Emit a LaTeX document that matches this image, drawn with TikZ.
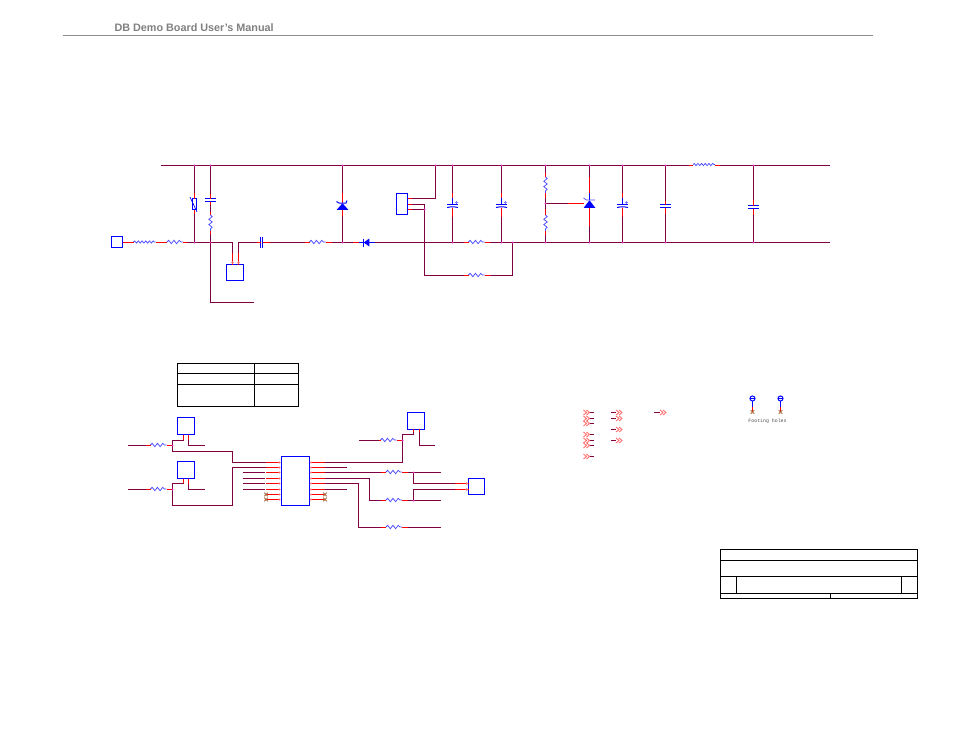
\documentclass[tikz,border=0pt]{standalone}
\usepackage{fontspec}
\setmainfont{Liberation Sans}
\newfontfamily\monof{Liberation Mono}
\usetikzlibrary{decorations.pathmorphing}
\definecolor{netc}{HTML}{800040}
\definecolor{jnc}{HTML}{E030D0}
\definecolor{pinc}{HTML}{FF7070}
\definecolor{ncc}{HTML}{A87040}
\tikzset{
 x=1bp,y=-1bp,
 wire/.style={netc,line width=1bp},
 lead/.style={red,line width=1bp},
 bluel/.style={blue,line width=1bp},
 tbl/.style={black,line width=.9bp},
 part/.style={draw=blue,line width=1bp,inner sep=0,outer sep=0,minimum width=17bp,minimum height=17bp},
 comp/.style={inner sep=0,outer sep=0},
 coil/.style={blue!70,line width=.75bp,decorate,decoration={snake,segment length=5.3bp,amplitude=1.7bp}},
 resh/.style={comp,minimum width=16bp,minimum height=4bp,append after command={(\tikzlastnode.west) edge[coil] (\tikzlastnode.east)}},
 resv/.style={comp,minimum width=4bp,minimum height=16bp,append after command={(\tikzlastnode.north) edge[coil] (\tikzlastnode.south)}},
 indh/.style={comp,minimum width=22bp,minimum height=4bp,append after command={(\tikzlastnode.west) edge[coil,decoration={snake,segment length=3.7bp,amplitude=1.1bp}] (\tikzlastnode.east)}},
 capv/.style={comp,minimum width=11bp,minimum height=3bp,append after command={(\tikzlastnode.north west) edge[bluel] (\tikzlastnode.north east) (\tikzlastnode.south west) edge[bluel] (\tikzlastnode.south east)}},
 caph/.style={comp,minimum width=2bp,minimum height=11bp,append after command={(\tikzlastnode.north west) edge[bluel] (\tikzlastnode.south west) (\tikzlastnode.north east) edge[bluel] (\tikzlastnode.south east)}},
 capp/.style={comp,minimum width=11bp,minimum height=3bp,append after command={(\tikzlastnode.north west) edge[bluel] (\tikzlastnode.north east) (\tikzlastnode.south west) edge[bluel,bend left=12] (\tikzlastnode.south east)}},
 jn/.style={fill=jnc},
 offp/.style={pinc,line width=.9bp},
 ncx/.style={ncc,line width=.9bp},
}
% horizontal and vertical stubs (dy positive = down the page)
\newcommand{\stubh}[3][lead]{\draw[#1] (#2) -- ([xshift=#3bp]#2);}
\newcommand{\stubv}[3][lead]{\draw[#1] (#2) -- ([yshift=-#3bp]#2);}
\begin{document}
\begin{tikzpicture}
\useasboundingbox (0,0) rectangle (954,738);
% header
\node[anchor=base west,inner sep=0,text=black!50,font=\bfseries\fontsize{10.85}{12}\selectfont] (hdr) at (114.3,31.6) {DB Demo Board User\symbol{39}s Manual};
\coordinate (hl) at (63,35.5); \coordinate (hr) at (873,35.5);
\draw[black!45,line width=.8bp] (hl) -- (hr);

% ---- top schematic: parts
\node[part,minimum width=11bp,minimum height=11bp] (J1) at (117,242) {};
\node[indh] (L1) at (144.5,242) {};
\node[resh] (R1) at (175,242) {};
\node[comp,draw=blue,line width=1bp,minimum width=4bp,minimum height=11bp] (RV) at (194.5,204) {};
\node[capv] (C1) at (210.5,200) {};
\node[resv] (R2) at (210.5,223) {};
\node[part,minimum height=16bp] (U2) at (235,272.5) {};
\node[caph] (C2) at (261.5,242.5) {};
\node[resh] (R3) at (317.5,242) {};
\node[comp,minimum width=11.5bp,minimum height=6.5bp] (Z1) at (342.5,206.5) {};
\node[comp,minimum width=5.6bp,minimum height=8bp] (D1) at (366.5,242.5) {};
\node[part,minimum width=11bp,minimum height=21bp] (U3) at (402,204) {};
\node[capp] (C3) at (452.5,206) {};
\node[capp] (C4) at (501.5,206) {};
\node[resh] (R4) at (476.5,242) {};
\node[resh] (R5) at (476.5,275) {};
\node[resv] (R6) at (545.5,185) {};
\node[resv] (R7) at (545.5,223) {};
\node[comp,minimum width=11.5bp,minimum height=7.5bp] (Z2) at (589.5,204) {};
\node[capp] (C5) at (622.5,206) {};
\node[capv] (C6) at (665.5,206) {};
\node[indh] (L2) at (704,164.5) {};
\node[capv] (C7) at (753.5,207) {};

% rails junction points
\foreach \n/\x in {1/194.5,2/210.5,3/342.5,4/435.5,5/452.5,6/501.5,7/545.5,8/589.5,9/622.5,10/665.5,11/753.5}
 {\coordinate (T\n) at (\x,165.5);}
\foreach \n/\x in {1/194.5,2/210.5,3/342.5,5/452.5,6/501.5,7/545.5,8/589.5,9/622.5,10/665.5,11/753.5,12/512.5}
 {\coordinate (B\n) at (\x,242.5);}
\coordinate (T0) at (161,165.5); \coordinate (Tend) at (830,165.5);
\coordinate (Ll) at (693,165.5); \coordinate (Lr) at (715,165.5);
\coordinate (Bend) at (830,242.5);
\coordinate (J1p) at (122.5,242.5); \coordinate (L1l) at (133.5,242.5); \coordinate (L1r) at (155.5,242.5);
\coordinate (R1l) at (167,242.5); \coordinate (R1r) at (183,242.5);
\coordinate (B2a) at (232.5,242.5); \coordinate (B2b) at (238.5,242.5);
\coordinate (U2a) at (232.5,264.5); \coordinate (U2b) at (238.5,264.5);
\coordinate (C2l) at (260.5,242.5); \coordinate (C2r) at (262.5,242.5);
\coordinate (R3l) at (309.5,242.5); \coordinate (R3r) at (325.5,242.5);
\coordinate (R4l) at (468.5,242.5); \coordinate (R4r) at (484.5,242.5);
\coordinate (R5l) at (468.5,275.5); \coordinate (R5r) at (484.5,275.5);
\coordinate (S1) at (253.7,302.5);
\coordinate (M7) at (545.5,203.5); \coordinate (Zin) at (583.7,203.5);
\coordinate (U3a) at (407.5,198.5); \coordinate (U3b) at (407.5,204.5); \coordinate (U3c) at (407.5,209.5);
\coordinate (N1) at (424.5,204.5); \coordinate (N2) at (424.5,209.5); \coordinate (N3) at (424.5,275.5);
\coordinate (RVt) at (194.5,198.5); \coordinate (RVb) at (194.5,209.5);
\coordinate (Dl) at (359.3,242.5); \coordinate (Dr) at (375.3,242.5);
\coordinate (C3u) at (452.5,198); \coordinate (C4u) at (501.5,198); \coordinate (C5u) at (622.5,198);
\coordinate (Z2u) at (589.5,193);

% wires
\draw[wire] (T0) -- (Ll) (Lr) -- (Tend);
\draw[wire] (J1p) -- (L1l) (L1r) -- (R1l) (R1r) -- (B2a) -- (U2a);
\draw[wire] (U2b) -- (B2b) -- (C2l) (C2r) -- (R3l) (R3r) -- (Dl);
\draw[wire] (Dr) -- (R4l) (R4r) -- (Bend);
\draw[wire] (T1) -- (RVt) (RVb) -- (B1);
\draw[wire] (T2) -- (C1.north) (C1.south) -- (R2.north) (R2.south) -- (B2) -- (B2 |- S1) -- (S1);
\draw[wire] (T3) -- (Z1.north) (Z1.south) -- (B3);
\draw[wire] (U3a) -- (U3a -| T4) -- (T4);
\draw[wire] (U3b) -- (N1) -- (N3) -- (R5l) (R5r) -- (R5r -| B12) -- (B12);
\draw[wire] (U3c) -- (N2);
\draw[wire] (T5) -- (C3u) (C3.south) -- (B5);
\draw[wire] (T6) -- (C4u) (C4.south) -- (B6);
\draw[wire] (T7) -- (R6.north) (R6.south) -- (R7.north) (R7.south) -- (B7);
\draw[wire] (M7) -- (Zin);
\draw[wire] (T8) -- (Z2u) (Z2.south) -- (B8);
\draw[wire] (T9) -- (C5u) (C5.south) -- (B9);
\draw[wire] (T10) -- (C6.north) (C6.south) -- (B10);
\draw[wire] (T11) -- (C7.north) (C7.south) -- (B11);

% red leads
\stubh{J1p}{10.5} \stubh{L1l}{-0.5} \stubh{L1r}{6} \stubh{R1l}{-5} \stubh{R1r}{4}
\stubv{U2a}{-12} \stubv{U2b}{-12}
\stubh{C2l}{-3.5} \stubh{C2r}{7} \stubh{R3l}{-4.5} \stubh{R3r}{6}
\stubh{Dl}{-6}
\draw[bluel] (D1.west) -- (Dl) (D1.east) -- (Dr);
\stubh{R4l}{-5} \stubh{R4r}{5} \stubh{R5l}{-5} \stubh{R5r}{5}
\stubv{RVt}{-5.3} \stubv{RVb}{4}
\stubv{C1.north}{-5} \stubv{C1.south}{3.5} \stubv{R2.north}{-3.5} \stubv{R2.south}{3}
\stubv{Z1.north}{-10} \stubv{Z1.south}{6}
\stubh{U3a}{4} \stubh{U3b}{4} \stubh{U3c}{4}
\draw[bluel] (C3.north) -- (C3u); \stubv{C3u}{-5} \stubv{C3.south}{9}
\draw[bluel] (C4.north) -- (C4u); \stubv{C4u}{-5} \stubv{C4.south}{9}
\draw[bluel] (C5.north) -- (C5u); \stubv{C5u}{-5} \stubv{C5.south}{9}
\stubv{C6.north}{-4} \stubv{C6.south}{6}
\stubv{C7.north}{-6} \stubv{C7.south}{6}
\stubv{R6.north}{-4} \stubv{R6.south}{4.5} \stubv{R7.north}{-6.5} \stubv{R7.south}{4}
\stubh{Zin}{-16}
\draw[bluel] (Z2.north) -- (Z2u); \stubv{Z2u}{-16} \stubv{Z2.south}{18}
\stubh{Ll}{-4.5} \stubh{Lr}{4.5}

% symbols
\draw[blue,line width=.7bp] (190,197) -- (197,212);
\fill[blue] (Z1.south west) -- (Z1.south east) -- (Z1.north) -- cycle;
\draw[bluel] (336.5,201.5) -- (339,203) -- (346,203) -- (347,200.5);
\fill[blue] (Z2.south west) -- (Z2.south east) -- (Z2.north) -- cycle;
\draw[blue!70,line width=.7bp] (583.5,198) -- (586.5,200) -- (595,200);
\fill[blue] ([yshift=4bp]D1.east) -- (D1.west) -- ([yshift=-4bp]D1.east) -- cycle;
\draw[bluel] ([yshift=-4bp]D1.west) -- ([yshift=4bp]D1.west);
\foreach \c in {C3,C4,C5}{
 \draw[blue!50,line width=.5bp] ([shift={(-3bp,1.8bp)}]\c.north east) -- ([shift={(0bp,1.8bp)}]\c.north east)
   ([shift={(-1.5bp,0.3bp)}]\c.north east) -- ([shift={(-1.5bp,3.3bp)}]\c.north east);}

% junctions
\foreach \c in {T1,T2,T3,T4,T5,T6,T7,T8,T9,T10,T11,B1,B2,B3,B5,B6,B7,B8,B9,B10,B11,B12,M7,N2}{\fill[jn] (\c) circle (1bp);}
\foreach \c in {U2a,U2b}{\fill[pinc] ([yshift=2bp]\c) circle (1.3bp);}

% ---- table
\node[comp,draw=black,line width=.9bp,minimum width=121bp,minimum height=43bp] (TB) at (238,385) {};
\coordinate (Ta) at (177.5,373.5); \coordinate (Tb) at (177.5,384.5);
\coordinate (Tv) at (254.5,363.5);
\draw[tbl] (Ta) -- (Ta -| TB.east) (Tb) -- (Tb -| TB.east) (Tv) -- (Tv |- TB.south);

% ---- lower schematic
\node[part] (Q1) at (186,426) {};
\node[part] (Q2) at (186,470) {};
\node[part,minimum width=28bp,minimum height=49bp] (IC) at (295.5,481) {};
\node[part] (Q3) at (416,420.5) {};
\node[part,minimum width=16bp,minimum height=16bp] (P1) at (476.5,486.5) {};
\node[resh] (R11) at (158.5,445) {};
\node[resh] (R12) at (158.5,489) {};
\node[resh] (R13) at (388.5,440) {};
\node[resh] (R14) at (394,472) {};
\node[resh] (R15) at (394,500) {};
\node[resh] (R16) at (394,527) {};

\foreach \i/\y in {1/462.5,2/467.5,3/472.5,4/478.5,5/483.5,6/489.5,7/494.5,8/499.5}{
 \coordinate (L\i) at (279.5,\y);
 \coordinate (R\i) at (311,\y);
 \coordinate (LL\i) at (266,\y);
 \coordinate (RR\i) at (325,\y);
}
\foreach \i in {3,4,5,6}{\coordinate (LF\i) at ([xshift=-36.8bp]L\i); \draw[wire] (LF\i) -- ([xshift=-1bp]LL\i);}
\foreach \i in {1,...,8}{\draw[lead] (L\i) -- (LL\i); \draw[lead] (R\i) -- (RR\i);}
\foreach \i in {7,8}{
 \draw[ncx] ([shift={(-1.8bp,-1.8bp)}]LL\i) -- ([shift={(1.8bp,1.8bp)}]LL\i) ([shift={(-1.8bp,1.8bp)}]LL\i) -- ([shift={(1.8bp,-1.8bp)}]LL\i);
 \draw[ncx] ([shift={(-1.8bp,-1.8bp)}]RR\i) -- ([shift={(1.8bp,1.8bp)}]RR\i) ([shift={(-1.8bp,1.8bp)}]RR\i) -- ([shift={(1.8bp,-1.8bp)}]RR\i);
}
% gate nets
\coordinate (Q1a) at (183.5,434.5); \coordinate (Q1b) at (188.5,434.5);
\coordinate (Q2a) at (183.5,478.5); \coordinate (Q2b) at (188.5,478.5);
\coordinate (W1) at (128,445.5); \coordinate (W2) at (128,489.5);
\coordinate (E1) at (204.7,445.5); \coordinate (E2) at (204.7,489.5);
\coordinate (J11) at (172.5,445.5); \coordinate (J12) at (172.5,489.5);
\coordinate (R11l) at (150.5,445.5); \coordinate (R11r) at (166.5,445.5);
\coordinate (R12l) at (150.5,489.5); \coordinate (R12r) at (166.5,489.5);
\draw[wire] (Q1a) -- (183.5,440.5) -- (172.5,440.5) -- (172.5,451.5) -- (232.5,451.5) -- (232.5,462.5) -- (LL1);
\draw[wire] (Q2a) -- (183.5,483.5) -- (172.5,483.5) -- (172.5,505.5) -- (232.5,505.5) -- (232.5,467.5) -- (LL2);
\draw[wire] (Q1b) |- (E1);
\draw[wire] (Q2b) |- (E2);
\draw[wire] (W1) -- (R11l) (W2) -- (R12l);
\stubh{R11l}{-5} \draw[lead] (R11r) -- (J11);
\stubh{R12l}{-5} \draw[lead] (R12r) -- (J12);
\stubv{Q1a}{5} \stubv{Q1b}{5} \stubv{Q2a}{4} \stubv{Q2b}{5}
\fill[jn] (J11) circle (1bp) (J12) circle (1bp);
% right nets
\coordinate (Q3a) at (413.5,428.5); \coordinate (Q3b) at (419.5,428.5);
\coordinate (J13) at (402.5,440.5); \coordinate (W3) at (359.3,440.5);
\coordinate (J14) at (413.5,472.5); \coordinate (J15) at (413.5,500.5);
\coordinate (E14) at (440.7,472.5); \coordinate (E15) at (440.7,500.5); \coordinate (E16) at (440.7,527.5);
\coordinate (P1a) at (468.5,483.5); \coordinate (P1b) at (468.5,489.5);
\coordinate (E3) at (434.7,445.5);
\coordinate (F2) at (346.7,467.5); \coordinate (F6) at (346.7,489.5);
\coordinate (R13l) at (380.5,440.5); \coordinate (R13r) at (396.5,440.5);
\coordinate (R14l) at (386,472.5); \coordinate (R14r) at (402,472.5);
\coordinate (R15l) at (386,500.5); \coordinate (R15r) at (402,500.5);
\coordinate (R16l) at (386,527.5); \coordinate (R16r) at (402,527.5);
\draw[wire] (RR1) -- (402.5,462.5) -- (402.5,434.5) -- (413.5,434.5) -- (Q3a);
\draw[wire] (RR2) -- (F2) (RR6) -- (F6);
\draw[wire] (RR3) -- (R14l) (R14r) -- (E14);
\draw[wire] (RR4) -- (369.5,478.5) -- (369.5,500.5) -- (R15l) (R15r) -- (E15);
\draw[wire] (RR5) -- (358.5,483.5) -- (358.5,527.5) -- (R16l) (R16r) -- (E16);
\draw[wire] (W3) -- (R13l);
\draw[wire] (Q3b) |- (E3);
\draw[wire] (J14) |- (P1a);
\draw[wire] (J15) |- (P1b);
\stubh{R13l}{-1.5} \draw[lead] (R13r) -- (J13);
\stubh{R14l}{-5} \stubh{R14r}{6} \stubh{R15l}{-5} \stubh{R15r}{6} \stubh{R16l}{-5} \stubh{R16r}{6}
\stubv{Q3a}{3} \stubv{Q3b}{3}
\stubh{P1a}{-14} \stubh{P1b}{-14}
\foreach \c in {J13,J14,J15}{\fill[jn] (\c) circle (1bp);}
\foreach \c in {P1a,P1b}{\fill[pinc] ([xshift=-1.8bp]\c) circle (1.3bp);}
\foreach \i in {1,...,8}{\fill[pinc] (L\i) circle (1.2bp); \fill[pinc] (R\i) circle (1.2bp);}

% off-page connectors
\foreach \y [count=\i] in {412.5,418.5,423.5,434.5,440.5,445.5,456.5}{
 \coordinate (OA\i) at (594,\y); \coordinate (OB\i) at (589.5,\y);
 \draw[wire] (OA\i) -- (OB\i);
 \draw[offp] (OB\i) ++(-3,-2.5) -- ++(3,2.5) -- ++(-3,2.5) (OB\i) ++(-6,-2.5) -- ++(3,2.5) -- ++(-3,2.5);
}
\foreach \y [count=\i] in {412.5,418.5,429.5,440.5}{
 \coordinate (OC\i) at (611,\y); \coordinate (OD\i) at (616,\y);
 \draw[wire] (OC\i) -- (OD\i);
 \draw[offp] (OD\i) ++(0,-2.5) -- ++(3,2.5) -- ++(-3,2.5) (OD\i) ++(3,-2.5) -- ++(3,2.5) -- ++(-3,2.5);
}
\coordinate (OE) at (654,412.5); \coordinate (OF) at (660,412.5);
\draw[wire] (OE) -- (OF);
\draw[offp] (OF) ++(0,-2.5) -- ++(3,2.5) -- ++(-3,2.5) (OF) ++(3,-2.5) -- ++(3,2.5) -- ++(-3,2.5);

% mounting holes
\foreach \n/\x in {1/752.5,2/780.5}{
 \node[comp,draw=blue,line width=1bp,circle,minimum size=5bp] (H\n) at (\x,398.5) {};
 \coordinate (Hm\n) at (\x,407); \coordinate (Hx\n) at (\x,412);
 \draw[bluel] (H\n.south) -- (Hm\n); \draw[lead] (Hm\n) -- (Hx\n);
 \draw[ncx] (\x-1.8,410.2) -- (\x+1.8,413.8) (\x-1.8,413.8) -- (\x+1.8,410.2);
 \draw[blue] (H\n.west) -- (H\n.east);
}
\node[comp,text=black!70,font=\monof\fontsize{4.9}{5}\selectfont] (HT) at (767.5,421) {Footing holes};

% title block
\node[comp,draw=black,line width=.9bp,minimum width=197bp,minimum height=49bp] (TT) at (819,574) {};
\coordinate (Tl1) at (720.5,560.5); \coordinate (Tl2) at (720.5,576.5); \coordinate (Tl3) at (720.5,593.5);
\coordinate (Tv1) at (736.5,576.5); \coordinate (Tv2) at (901.5,576.5); \coordinate (Tv3) at (830.5,593.5);
\draw[tbl] (Tl1) -- (Tl1 -| TT.east) (Tl2) -- (Tl2 -| TT.east) (Tl3) -- (Tl3 -| TT.east);
\draw[tbl] (Tv1) -- (Tv1 |- Tl3) (Tv2) -- (Tv2 |- Tl3) (Tv3) -- (Tv3 |- TT.south);
\end{tikzpicture}
\end{document}
